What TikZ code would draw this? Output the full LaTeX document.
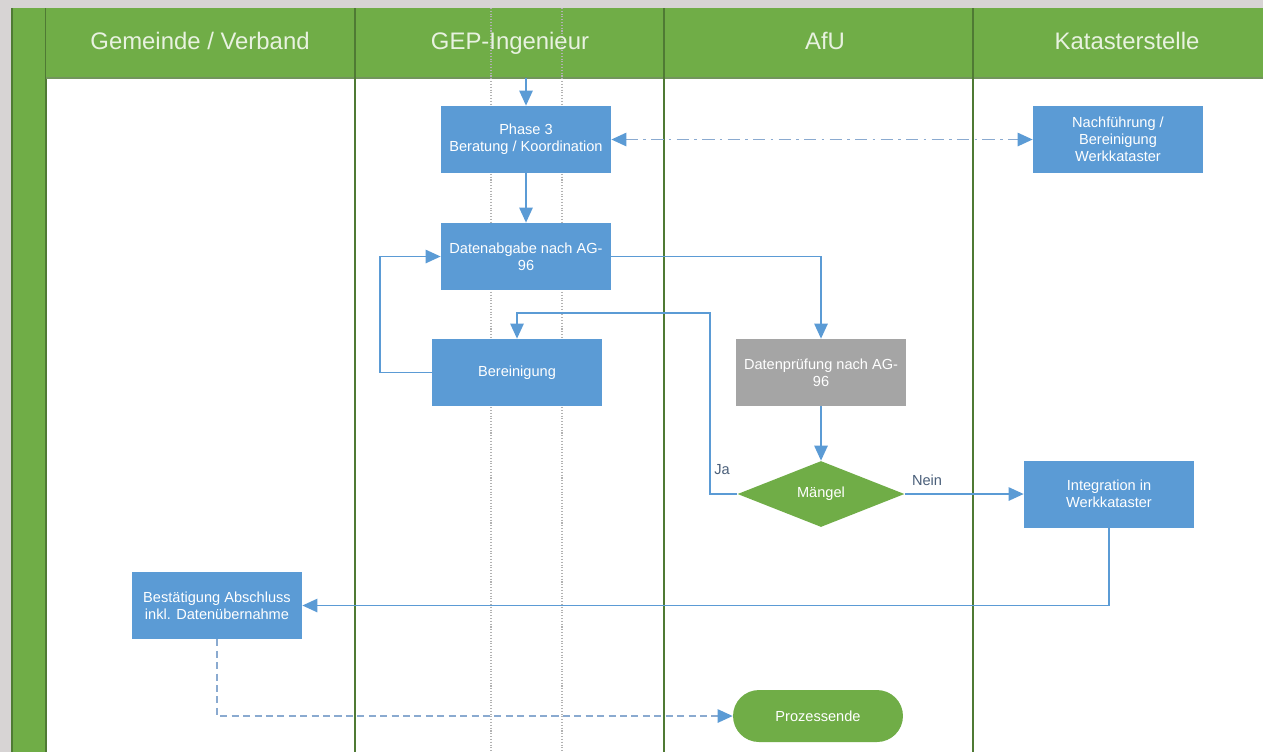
\documentclass[tikz,border=0pt]{standalone}
\usepackage{fontspec}
\setmainfont{Liberation Sans}
\usetikzlibrary{shapes.geometric,arrows.meta}
\definecolor{bggray}{HTML}{D7D4D4}
\definecolor{lanegreen}{HTML}{70AD47}
\definecolor{sepgreen}{HTML}{4F7A34}
\definecolor{boxblue}{HTML}{5B9BD5}
\definecolor{boxgray}{HTML}{A5A5A5}
\definecolor{linkblue}{HTML}{5B9BD5}
\definecolor{dashblue}{HTML}{8AAAD0}
\definecolor{labelcol}{HTML}{4A5F7A}
\definecolor{headtext}{HTML}{E8F2E0}
\tikzset{
  boxnode/.style={rectangle, fill=boxblue, minimum width=3.4cm, minimum height=1.34cm,
    text=white, align=center, inner sep=2pt,
    font=\fontsize{8.3}{9.8}\selectfont},
  graynode/.style={boxnode, fill=boxgray},
  decision/.style={diamond, fill=lanegreen, minimum width=3.34cm, minimum height=1.32cm,
    text=white, inner sep=0pt, font=\fontsize{8.3}{9.8}\selectfont},
  terminal/.style={rectangle, rounded corners=0.52cm, fill=lanegreen, minimum width=3.4cm,
    minimum height=1.04cm, text=white, font=\fontsize{8.3}{9.8}\selectfont},
  headlabel/.style={text=headtext, anchor=base, font=\fontsize{13.6}{16}\selectfont},
  edgelabel/.style={text=labelcol, font=\fontsize{8.3}{9.8}\selectfont},
  arr/.style={draw=linkblue, line width=1.1pt, -{Triangle[length=8.5pt,width=7.5pt]}},
  dashdot/.style={draw=dashblue, line width=1.1pt, dash pattern=on 7pt off 3pt on 1.5pt off 3pt,
    {Triangle[length=8.5pt,width=7.5pt,color=linkblue]}-{Triangle[length=8.5pt,width=7.5pt,color=linkblue]}},
  dashedarr/.style={draw=dashblue, line width=1.1pt, dash pattern=on 4pt off 2.5pt,
    -{Triangle[length=8.5pt,width=7.5pt,color=linkblue]}},
  sepline/.style={draw=sepgreen, line width=1pt},
  guide/.style={draw=gray!60, line width=0.6pt, densely dotted}
}
\begin{document}
\begin{tikzpicture}[x=0.02cm,y=-0.02cm]
\useasboundingbox (0,0) rectangle (1263,752);
% background
\fill[bggray] (0,0) rectangle (1263,752);
\fill[white] (46,78) rectangle (1263,752);
% left strip
\fill[lanegreen] (12,8) rectangle (46,752);
\draw[sepgreen, line width=0.8pt] (12,8) -- (12,752);
\draw[sepgreen, line width=0.8pt] (46,8) -- (46,752);
% header
\fill[lanegreen] (46,8) rectangle (1263,78);
\draw[sepgreen!80, line width=0.8pt] (46,78) -- (1263,78);
% dotted guides
\draw[guide] (491,8) -- (491,752);
\draw[guide] (562,8) -- (562,752);
% lane separators
\draw[sepline] (355,8) -- (355,752);
\draw[sepline] (664,8) -- (664,752);
\draw[sepline] (973,8) -- (973,752);
% header labels
\node[headlabel] (h1) at (200,49) {Gemeinde / Verband};
\node[headlabel] (h2) at (510,49) {GEP-Ingenieur};
\node[headlabel] (h3) at (825,49) {AfU};
\node[headlabel] (h4) at (1127,49) {Katasterstelle};

% nodes
\node[boxnode] (p3) at (526,139.5) {Phase 3\\Beratung / Koordination};
\node[boxnode] (nach) at (1118,139.5) {Nachführung /\\Bereinigung\\Werkkataster};
\node[boxnode] (dab) at (526,256.5) {Datenabgabe nach AG-\\96};
\node[boxnode] (ber) at (517,372.5) {Bereinigung};
\node[graynode] (dpr) at (821,372.5) {Datenprüfung nach AG-\\96};
\node[decision] (mg) at (821,494) {Mängel};
\node[boxnode] (int) at (1109,494) {Integration in\\Werkkataster};
\node[boxnode] (best) at (217,605.5) {Bestätigung Abschluss\\inkl. Datenübernahme};
\node[terminal] (endn) at (818,716) {Prozessende};

% connectors
\coordinate (start) at (526,78);
\coordinate (loop) at (380,300);
\coordinate (ja1) at (710,313);
\draw[arr] (start) -- (p3);
\draw[dashdot] (p3) -- (nach);
\draw[arr] (p3) -- (dab);
\draw[arr] (ber.west) -| (loop) |- (dab.west);
\draw[arr] (dab.east) -| (dpr.north);
\draw[arr] (dpr) -- (mg);
\draw[arr] (mg.west) -| (ja1) -| (ber.north);
\draw[arr] (mg.east) -- (int.west);
\draw[arr] (int.south) |- (best.east);
\draw[dashedarr] (best.south) |- (endn.west);

% edge labels
\node[edgelabel] (ja) at (722,470) {Ja};
\node[edgelabel] (nein) at (927,480) {Nein};
\end{tikzpicture}
\end{document}
